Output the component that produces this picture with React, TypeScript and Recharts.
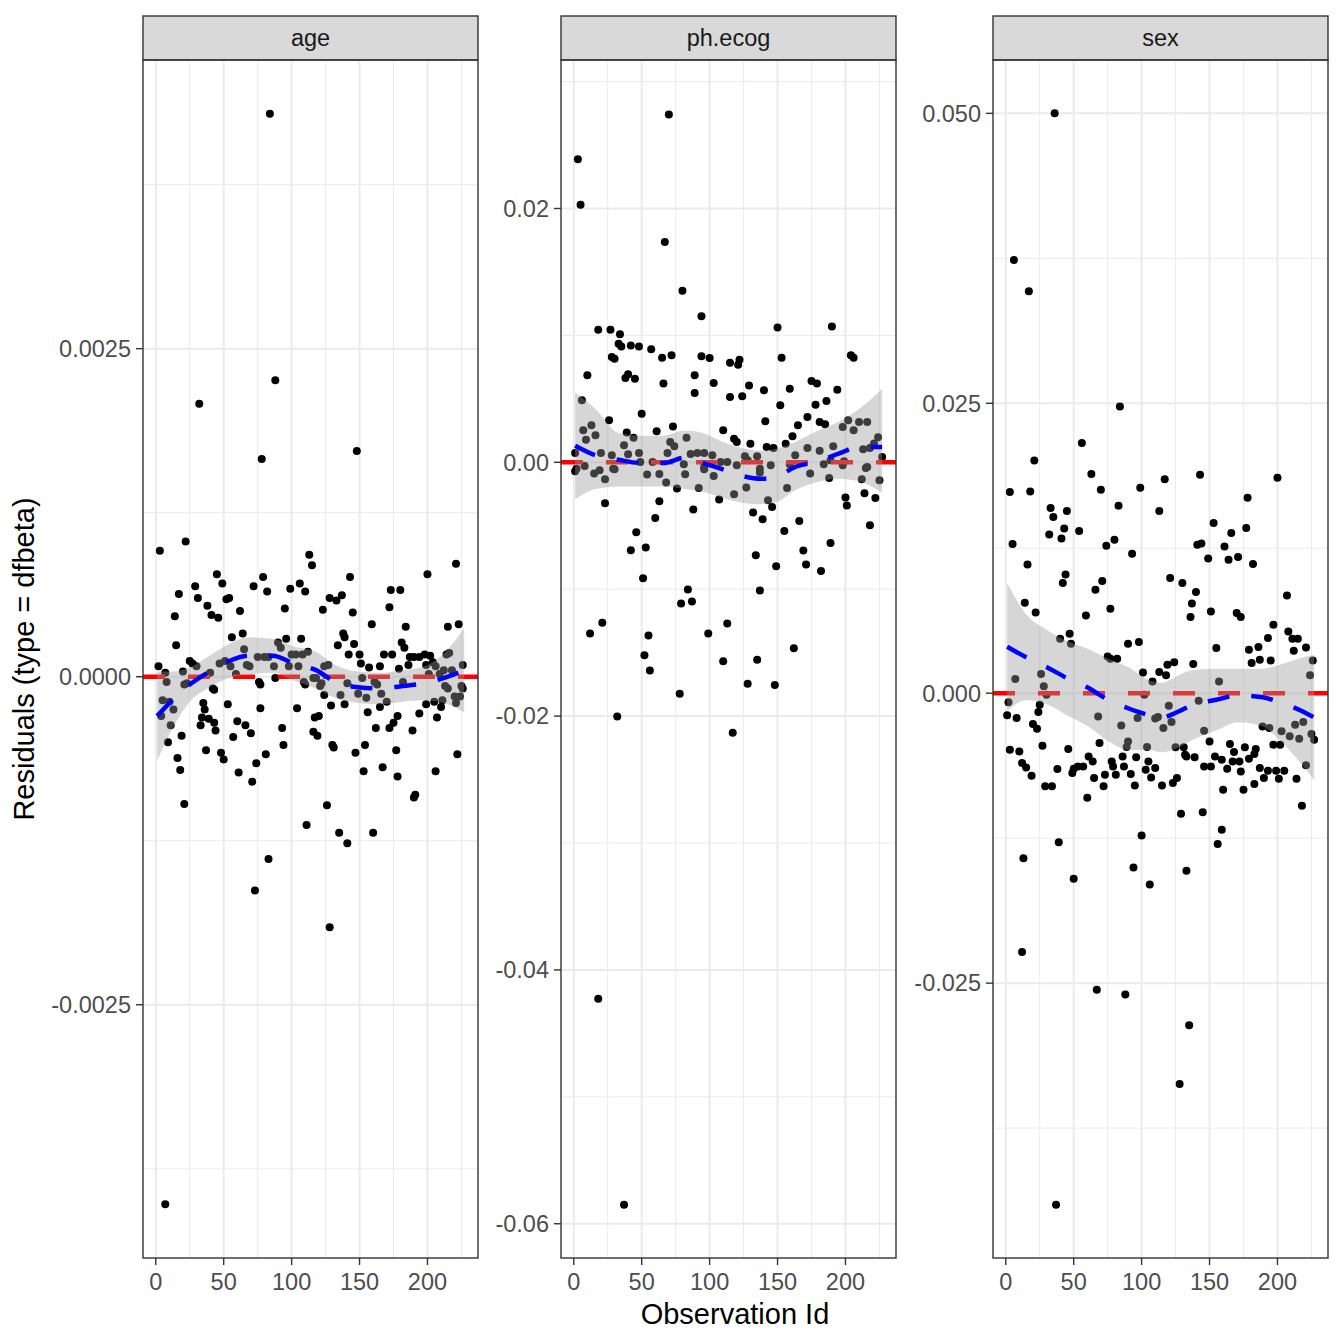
import {
  ComposedChart,
  Scatter,
  Line,
  Area,
  XAxis,
  YAxis,
  CartesianGrid,
  ReferenceLine,
} from 'recharts';

const FONT = '"Liberation Sans", Arial, Helvetica, sans-serif';

// shared x axis (observation id)
const xDomain = [-9.4, 237.2];
const xTicks = [0, 50, 100, 150, 200];
const xMinor = [25, 75, 125, 175, 225];

// ---- age: dfbeta per observation [id, value] ----
const agePts: [number, number][] = [
  [84, 0.00429], [88, 0.00226], [32, 0.00208], [78, 0.00166], [148, 0.00172],
  [3, 0.00096], [22, 0.00103], [17, 0.00063], [14, 0.00046], [15, 0.00024], [29, 0.00069], [31, 0.0006],
  [38, 0.00054], [41, 0.00047], [46, 0.00045], [45, 0.00078], [49, 0.00071], [52, 0.00059], [54, 0.0006],
  [62, 0.0005], [72, 0.00069], [79, 0.00076], [82, 0.00065], [56, 0.0003], [64, 0.00033], [95, 0.00052],
  [99, 0.00067], [106, 0.00071], [110, 0.00065], [113, 0.00093], [115, 0.00085], [96, 0.00029], [107, 0.00029],
  [123, 0.00051], [128, 0.0006], [133, 0.00058], [137, 0.00062], [143, 0.00076], [145, 0.00049], [138, 0.00033],
  [139, 0.0003], [134, 0.00024], [146, 0.00025], [142, 0.00017], [150, 0.00017], [159, 0.0004], [173, 0.00066],
  [180, 0.00066], [172, 0.00053], [184, 0.00038], [181, 0.00026], [183, 0.00022], [200, 0.00078], [221, 0.00086],
  [215, 0.00038], [223, 0.0004], [168, 0.00017], [174, 0.00017], [165, 0.00008], [151, 0.0001], [157, 0.00007],
  [187, 0.00015], [190, 0.00015], [194, 0.00015], [198, 0.00017], [202, 0.00016], [204, 0.00011], [206, 0.00008],
  [214, 0.00017], [216, 0.00018], [179, 0.00006], [186, 0.00009], [199, 0.00009], [201, 0.00002], [209, 0.00002],
  [212, 0.00005], [218, 0.00005], [226, 0.00009], [213, -0.00007], [225, -0.00007], [2, 0.00008], [7, 0.00003],
  [8, -0.00004], [25, 0.00012], [27, 0.0001], [20, 0.00004], [30, 0.00008], [23, -0.00005], [40, 0.00003],
  [42, -0.00009], [47, 0.0001], [51, 0.00012], [55, 0.00008], [59, 0.00002], [65, 0.00021], [67, 0.00009],
  [69, 0.00008], [75, 0.00015], [80, 0.00015], [76, -0.00004], [83, 0.00015], [87, 0.00008], [90, 0.00026],
  [92, 0.00022], [88, -0.00001], [100, 0.00017], [103, 0.00017], [108, 0.00017], [112, 0.00019], [105, 0.00008],
  [98, 0.00008], [109, -0.00004], [116, -0.00001], [118, -0.00001], [122, -0.00005], [127, 0.00009], [124, 0.00008],
  [141, -0.00005], [152, -0.00001], [161, -0.00004], [163, -0.00006], [182, -0.00004],
  [21, -0.00006], [43, -0.0001], [77, -0.00006], [110, -0.00006], [121, -0.00007], [5, -0.00018], [10, -0.00019],
  [13, -0.00025], [4, -0.0003], [11, -0.00037], [19, -0.00045], [9, -0.0005], [16, -0.00062], [18, -0.00071],
  [21, -0.00097], [35, -0.0002], [36, -0.00025], [34, -0.00031], [39, -0.00032], [33, -0.00037], [43, -0.00035],
  [44, -0.00041], [37, -0.00056], [48, -0.00058], [50, -0.00063], [53, -0.00021], [60, -0.00034], [66, -0.00037],
  [57, -0.00046], [70, -0.00043], [77, -0.00024], [61, -0.00073], [74, -0.00066], [81, -0.00059], [71, -0.0008],
  [93, -0.00039], [94, -0.00052], [83, -0.00139], [73, -0.00163], [104, -0.00024], [117, -0.00031], [120, -0.0003],
  [116, -0.00042], [119, -0.00045], [111, -0.00113], [130, -0.00052], [131, -0.00054], [126, -0.00098],
  [135, -0.00119], [141, -0.00127], [128, -0.00191], [124, -0.00014], [129, -0.00022], [136, -0.00014],
  [139, -0.00021], [149, -0.00013], [155, -0.00016], [156, -0.00027], [147, -0.00058], [154, -0.00052],
  [153, -0.00072], [162, -0.00039], [167, -0.00069], [160, -0.00119], [166, -0.00013], [170, -0.00019],
  [165, -0.00023], [172, -0.00039], [175, -0.00035], [178, -0.0003], [177, -0.00056], [178, -0.00076],
  [189, -0.00041], [194, -0.00028], [191, -0.0009], [190, -0.00092], [199, -0.00021], [205, -0.00019],
  [211, -0.00018], [210, -0.00023], [215, -0.00009], [220, -0.00015], [224, -0.00015], [226, -0.00009],
  [221, -0.0002], [207, -0.00031], [206, -0.00072], [222, -0.00059], [7, -0.00402],
];
const ageFitIds = [1, 13, 25, 38, 54, 69, 86, 102, 118, 132, 149, 165, 182, 198, 215, 227];
const ageFit = [-0.0003, -0.00017, -0.00006, 0.00003, 0.00012, 0.00016, 0.00016, 0.0001, 0.00005, -0.00004, -0.00008, -0.00009, -0.00007, -0.00005, 0.0, 0.00005];
const ageLo = [-0.00064, -0.00038, -0.00019, -0.00009, -0.00001, 0.00002, 0.00003, -0.00003, -0.00009, -0.00016, -0.0002, -0.00021, -0.00019, -0.00018, -0.00021, -0.00027];
const ageHi = [0.00004, 0.00004, 0.00007, 0.00015, 0.00025, 0.0003, 0.00029, 0.00023, 0.00019, 0.00009, 0.00004, 0.00003, 0.00005, 0.00008, 0.00021, 0.00037];
const ageTicks = [-0.0025, 0, 0.0025];
const ageMinor = [-0.00375, -0.00125, 0.00125, 0.00375];

// ---- ph.ecog ----
const ecogPts: [number, number][] = [
  [70, 0.0274], [3, 0.02388], [5, 0.02029], [67, 0.01735], [80, 0.01352], [94, 0.0115], [18, 0.01045],
  [27, 0.01045], [150, 0.01063], [190, 0.01071],
  [34, 0.01008], [33, 0.00934], [35, 0.00913], [42, 0.00921], [48, 0.00913], [57, 0.0089], [65, 0.00824],
  [72, 0.00843], [28, 0.00829], [30, 0.00816], [10, 0.00685], [38, 0.00664], [40, 0.00693], [45, 0.00659],
  [66, 0.0062], [94, 0.00835], [100, 0.00822], [89, 0.00685], [89, 0.00546], [103, 0.00625], [115, 0.00785],
  [121, 0.00769], [122, 0.00809], [115, 0.00514], [124, 0.0052], [129, 0.00606], [140, 0.00567], [153, 0.00824],
  [152, 0.00449], [159, 0.0058], [175, 0.0064], [179, 0.0062], [194, 0.00572], [178, 0.00454], [186, 0.00483],
  [204, 0.00843], [206, 0.00824],
  [6, 0.00488], [26, 0.00331], [50, 0.00383], [39, 0.00234], [44, 0.00194], [61, 0.00244], [73, 0.00283],
  [83, 0.00194], [110, 0.00252], [118, 0.00186], [120, 0.0016], [130, 0.00147], [141, 0.00323], [156, 0.00147],
  [161, 0.00205], [165, 0.00291], [172, 0.00357], [181, 0.00318], [185, 0.00299], [198, 0.00278], [202, 0.00331],
  [210, 0.00318], [216, 0.00318], [206, 0.00252], [7, 0.00252], [13, 0.00291], [9, 0.00178], [16, 0.00213],
  [37, 0.00134], [71, 0.0016],
  [1, 0.00073], [20, 0.00073], [28, 0.00055], [40, 0.00063], [48, 0.00073], [69, 0.00073], [74, 0.00126],
  [86, 0.00066], [91, 0.00073], [96, 0.00073], [102, 0.00055], [113, 0.00002], [126, 0.00047], [135, 0.00047],
  [142, 0.0012], [147, 0.00113], [163, 0.00055], [172, 0.00113], [181, 0.0009], [191, 0.00126], [199, 0.00008],
  [213, 0.00102], [218, 0.00113], [221, 0.00149], [224, 0.00197], [227, 0.00042],
  [8, -0.00029], [2, -0.0005], [29, -0.0005], [49, 0.00002], [58, 0.00002], [81, -0.00016], [96, -0.00037],
  [108, 0.00002], [120, -0.00024], [128, 0.00016], [137, -0.0005], [145, -0.00024], [159, -0.00016],
  [184, -0.00016], [189, 0.00016], [216, -0.00037],
  [1, -0.00071], [15, -0.00089], [19, -0.00063], [23, -0.00134], [30, -0.00055], [54, -0.00097], [63, -0.00092],
  [68, -0.0016], [76, -0.00207], [82, -0.00094], [92, -0.00202], [96, -0.00055], [103, -0.00108], [107, -0.00294],
  [118, -0.00252], [127, -0.00199], [137, -0.00081], [143, -0.00299], [146, -0.00352], [132, -0.00396],
  [139, -0.00449], [157, -0.00202], [174, -0.00089], [188, -0.00124], [198, -0.00024], [212, -0.00134],
  [215, -0.00045], [225, -0.00142], [214, -0.00244], [222, -0.00281], [200, -0.00278], [201, -0.00341],
  [218, -0.00496], [166, -0.00462], [155, -0.00541], [189, -0.00635], [169, -0.00695], [171, -0.00806],
  [182, -0.00856], [149, -0.00819], [134, -0.00732], [137, -0.0101], [162, -0.01465], [135, -0.01556],
  [148, -0.01754], [128, -0.01746], [110, -0.01567], [113, -0.0127], [99, -0.01349], [117, -0.02131],
  [78, -0.01824], [84, -0.01003], [79, -0.01113], [87, -0.01097], [88, -0.00372], [63, -0.00307], [60, -0.00438],
  [46, -0.00551], [42, -0.00693], [53, -0.00672], [51, -0.00913], [55, -0.01365], [52, -0.0152], [56, -0.0164],
  [21, -0.01265], [12, -0.01349], [32, -0.02003], [23, -0.00323], [18, -0.04228], [37, -0.0585],
];
const ecogFitIds = [1, 16, 33, 49, 66, 82, 98, 112, 125, 138, 150, 163, 178, 195, 210, 227];
const ecogFit = [0.0013, 0.00055, 0.0002, -0.00005, -0.00005, 0.00037, -0.00016, -0.00063, -0.0011, -0.0013, -0.0011, -0.00037, 0.00003, 0.00068, 0.00121, 0.0012];
const ecogLo = [-0.0029, -0.0021, -0.0019, -0.0019, -0.0019, -0.0021, -0.0024, -0.0029, -0.0032, -0.0033, -0.0031, -0.0022, -0.0016, -0.0013, -0.0015, -0.0024];
const ecogHi = [0.0055, 0.0042, 0.0023, 0.0021, 0.0021, 0.0025, 0.0022, 0.0015, 0.0011, 0.0009, 0.0011, 0.0016, 0.0024, 0.0032, 0.0042, 0.0058];
const ecogTicks = [-0.06, -0.04, -0.02, 0, 0.02];
const ecogMinor = [-0.05, -0.03, -0.01, 0.01, 0.03];

// ---- sex ----
const sexPts: [number, number][] = [
  [36, 0.05], [6, 0.03735], [17, 0.03467], [84, 0.02473],
  [56, 0.02157], [21, 0.02007], [3, 0.01735], [18, 0.0174], [63, 0.0189], [70, 0.01754], [99, 0.01772],
  [117, 0.01846], [143, 0.01884], [200, 0.01858], [178, 0.01685], [33, 0.01596], [35, 0.01519], [45, 0.01571],
  [83, 0.01616], [113, 0.01571], [43, 0.01421], [54, 0.01398], [32, 0.01369], [41, 0.01335], [5, 0.01286],
  [74, 0.01272], [80, 0.01323], [93, 0.01203], [141, 0.0128], [144, 0.0129], [153, 0.01467], [166, 0.01381],
  [177, 0.01424], [161, 0.01266], [164, 0.01151], [171, 0.01174], [149, 0.01162], [182, 0.01114], [16, 0.0111],
  [44, 0.01024], [42, 0.0095], [71, 0.00967], [66, 0.00892], [121, 0.00993], [130, 0.0095], [140, 0.00872],
  [137, 0.00774], [207, 0.00843], [14, 0.0078], [22, 0.00697], [59, 0.00671], [77, 0.00728], [136, 0.00657],
  [151, 0.00705], [170, 0.00691], [173, 0.00657],
  [197, 0.0059], [208, 0.00533], [211, 0.0047], [215, 0.0047], [193, 0.00476], [221, 0.00395], [212, 0.00366],
  [179, 0.00375], [186, 0.00398], [181, 0.0026], [187, 0.00289], [195, 0.00283], [226, 0.00283], [224, 0.00154],
  [155, 0.0039], [138, 0.00252], [157, 0.00102], [142, -0.00065], [40, 0.0047], [47, 0.00513], [48, 0.00427],
  [90, 0.00427], [98, 0.00441], [75, 0.00317], [77, 0.00297], [82, 0.00297], [101, 0.00179], [108, 0.00102],
  [113, 0.00183], [118, 0.00154], [119, 0.00246], [124, 0.00266], [7, 0.00122], [26, 0.00166], [28, 0.00059],
  [30, -0.00013], [102, -0.00013],
  [2, -0.00079], [25, -0.00099], [24, -0.00162], [1, -0.00191], [8, -0.00214], [20, -0.00266], [23, -0.00306],
  [68, -0.002], [85, -0.00278], [97, -0.00214], [110, -0.00217], [112, -0.00205], [116, -0.003], [122, -0.00248],
  [120, -0.00108], [146, -0.00323], [189, -0.00286], [194, -0.003], [203, -0.00329], [213, -0.00272],
  [219, -0.00248], [225, -0.00352], [227, -0.00401], [202, -0.00444], [209, -0.00372], [216, -0.00392],
  [221, -0.00622],
  [3, -0.00487], [10, -0.00502], [12, -0.00602], [15, -0.0064], [19, -0.00711], [27, -0.00453], [38, -0.00654],
  [29, -0.00803], [34, -0.00803], [46, -0.00481], [50, -0.00651], [53, -0.00631], [57, -0.00631], [61, -0.00545],
  [64, -0.00588], [49, -0.00688], [65, -0.00731], [69, -0.00429], [73, -0.00703], [72, -0.00803], [78, -0.00588],
  [79, -0.00631], [81, -0.00703], [86, -0.00545], [87, -0.00631], [90, -0.00416], [92, -0.00697], [89, -0.00463],
  [96, -0.00553], [95, -0.00795], [104, -0.00464], [105, -0.00588], [103, -0.0066], [107, -0.00726],
  [110, -0.00645], [115, -0.00795], [123, -0.00774], [126, -0.00731], [125, -0.00467], [131, -0.00467],
  [132, -0.0053], [133, -0.00545], [139, -0.00553], [150, -0.00416], [146, -0.00631], [151, -0.00631],
  [154, -0.00545], [159, -0.00573], [163, -0.00651], [160, -0.00832], [165, -0.00438], [168, -0.00507],
  [167, -0.00588], [172, -0.00588], [173, -0.00674], [175, -0.00832], [176, -0.00467], [179, -0.00565],
  [183, -0.00524], [184, -0.00481], [187, -0.00645], [183, -0.00783], [190, -0.00731], [193, -0.00668],
  [199, -0.00668], [197, -0.00444], [201, -0.00737], [205, -0.00668], [214, -0.00737],
  [60, -0.00901], [218, -0.0097], [129, -0.01039], [145, -0.01027], [159, -0.01177], [156, -0.013],
  [100, -0.01226], [39, -0.01286], [13, -0.01424], [50, -0.01599], [94, -0.01502], [106, -0.01649],
  [133, -0.0153], [12, -0.02231], [67, -0.02556], [88, -0.02597], [135, -0.02864], [128, -0.03369], [37, -0.0441],
];
const sexFitIds = [1, 15, 31, 45, 61, 75, 91, 106, 115, 123, 138, 155, 171, 188, 203, 219, 227];
const sexFit = [0.004, 0.0031, 0.0022, 0.0013, 0.00045, -0.00056, -0.00134, -0.0019, -0.0021, -0.0018, -0.001, -0.00056, -0.0002, -0.00033, -0.00085, -0.0016, -0.0021];
const sexLo = [-0.0015, -0.0006, -0.001, -0.0019, -0.0029, -0.0041, -0.0049, -0.0049, -0.0051, -0.0049, -0.004, -0.0032, -0.0025, -0.0028, -0.0042, -0.0063, -0.0075];
const sexHi = [0.0095, 0.0068, 0.0054, 0.0045, 0.0038, 0.003, 0.0022, 0.0011, 0.0009, 0.0013, 0.002, 0.0021, 0.0021, 0.0021, 0.0025, 0.0031, 0.0033];
const sexTicks = [-0.025, 0, 0.025, 0.05];
const sexMinor = [-0.0375, -0.0125, 0.0125, 0.0375];

const PW = 335; // panel width
const TOP = 60;
const PH = 1198;

const dot = (p: any) => <circle cx={p.cx} cy={p.cy} r={4} fill="#000000" />;

function Panel({ left, axisW, pts, fitIds, fit, lo, hi, domain, ticks, minor, digits }: any) {
  const rows = fitIds.map((id: number, i: number) => ({ id, fit: fit[i], band: [lo[i], hi[i]] }));
  const dots = pts.map(([id, v]: [number, number]) => ({ id, v }));
  const tickStyle = { fill: '#4D4D4D', fontSize: 23.5, fontFamily: FONT };
  return (
    <div style={{ position: 'absolute', left: left - axisW, top: 0 }}>
      <ComposedChart
        width={axisW + PW + 2}
        height={1344}
        data={rows}
        margin={{ top: TOP, right: 2, bottom: 46, left: 0 }}
      >
        <CartesianGrid horizontalValues={minor} verticalValues={xMinor} stroke="#EBEBEB" strokeWidth={1} />
        <CartesianGrid horizontalValues={ticks} verticalValues={xTicks} stroke="#EBEBEB" strokeWidth={2} />
        <XAxis
          type="number"
          dataKey="id"
          domain={xDomain}
          ticks={xTicks}
          allowDataOverflow
          height={40}
          axisLine={false}
          tickSize={7}
          tickMargin={8}
          tickLine={{ stroke: '#333333', strokeWidth: 1.4 }}
          tick={tickStyle}
        />
        <YAxis
          type="number"
          dataKey="v"
          domain={domain}
          ticks={ticks}
          allowDataOverflow
          width={axisW}
          axisLine={false}
          tickSize={7}
          tickMargin={5}
          tickLine={{ stroke: '#333333', strokeWidth: 1.4 }}
          tick={tickStyle}
          tickFormatter={(v: number) => v.toFixed(digits)}
        />
        <Scatter data={dots} dataKey="v" shape={dot} isAnimationActive={false} zIndex={600} />
        <ReferenceLine y={0} stroke="#FF0000" strokeWidth={4.5} strokeDasharray="22 23" zIndex={620} />
        <Area
          dataKey="band"
          type="monotone"
          fill="#999999"
          fillOpacity={0.4}
          stroke="none"
          isAnimationActive={false}
          zIndex={640}
        />
        <Line
          dataKey="fit"
          type="monotone"
          stroke="#0000FF"
          strokeWidth={4.5}
          strokeDasharray="22 22"
          dot={false}
          isAnimationActive={false}
          zIndex={660}
        />
      </ComposedChart>
    </div>
  );
}

const strips = [
  { left: 143, label: 'age' },
  { left: 561, label: 'ph.ecog' },
  { left: 993, label: 'sex' },
];

export default function App() {
  return (
    <div style={{ position: 'absolute', left: 0, top: 0, width: 1344, height: 1344, background: '#fff' }}>
      <Panel left={143} axisW={143} pts={agePts} fitIds={ageFitIds} fit={ageFit} lo={ageLo} hi={ageHi}
        domain={[-0.00443, 0.0047]} ticks={ageTicks} minor={ageMinor} digits={4} />
      <Panel left={561} axisW={70} pts={ecogPts} fitIds={ecogFitIds} fit={ecogFit} lo={ecogLo} hi={ecogHi}
        domain={[-0.0627, 0.0317]} ticks={ecogTicks} minor={ecogMinor} digits={2} />
      <Panel left={993} axisW={90} pts={sexPts} fitIds={sexFitIds} fit={sexFit} lo={sexLo} hi={sexHi}
        domain={[-0.0487, 0.0546]} ticks={sexTicks} minor={sexMinor} digits={3} />
      <svg width={1344} height={1344} style={{ position: 'absolute', left: 0, top: 0, pointerEvents: 'none' }}>
        {strips.map((s) => (
          <g key={s.label}>
            <rect x={s.left} y={16} width={PW} height={TOP - 16} fill="#D9D9D9" stroke="#333333" strokeWidth={1.4} />
            <text x={s.left + PW / 2} y={46} textAnchor="middle" fontFamily={FONT} fontSize={23.5} fill="#1A1A1A">
              {s.label}
            </text>
            <rect x={s.left} y={TOP} width={PW} height={PH} fill="none" stroke="#333333" strokeWidth={1.4} />
          </g>
        ))}
        <text
          transform="translate(34,659) rotate(-90)"
          textAnchor="middle"
          fontFamily={FONT}
          fontSize={29}
          fill="#000"
        >
          Residuals (type = dfbeta)
        </text>
        <text x={735} y={1324} textAnchor="middle" fontFamily={FONT} fontSize={29} fill="#000">
          Observation Id
        </text>
      </svg>
    </div>
  );
}
